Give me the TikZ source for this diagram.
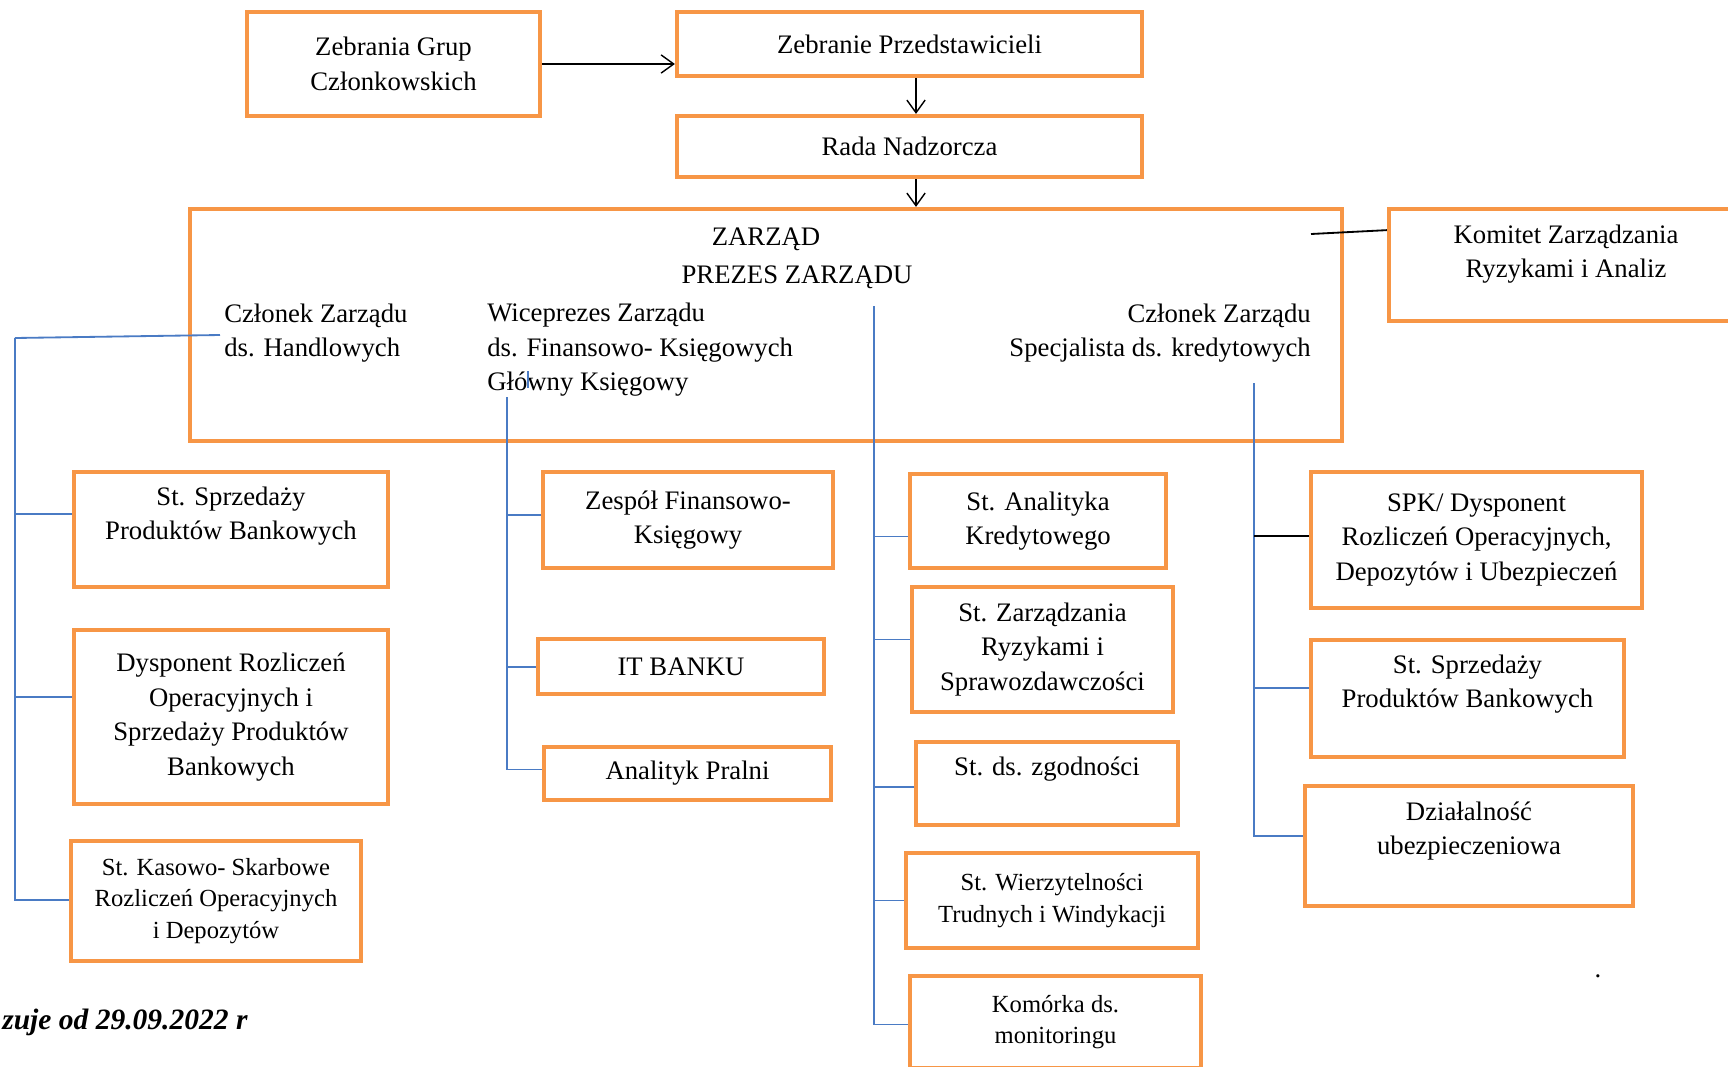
\documentclass[tikz,border=0pt]{standalone}
\usepackage{fontspec}
\setmainfont{Liberation Serif}
\usetikzlibrary{calc, arrows.meta}
\definecolor{boxorange}{HTML}{F79646}
\definecolor{lineblue}{HTML}{4A7BC4}
\newcommand\fs{\fontsize{19}{24.5}\selectfont}
\newcommand\fss{\fontsize{17.5}{22.5}\selectfont}

\begin{document}
\begin{tikzpicture}[
    x=0.025cm, y=-0.025cm,
    box/.style={rectangle, draw=boxorange, line width=3pt, align=center, font=\fs, inner sep=2pt},
    sz/.style 2 args={minimum width=#1*0.025cm, minimum height=#2*0.025cm},
    txt/.style={align=center, font=\fs, inner sep=0pt},
    arrow/.style={-{Straight Barb[length=9pt,width=13pt]}, line width=1pt},
    tree/.style={draw=lineblue, line width=1.3pt},
    thintree/.style={draw=lineblue, line width=0.8pt},
    plain/.style={draw=black, line width=1.3pt}
]
\useasboundingbox (0,0) rectangle (1728,1066);

% Top of the structure
\node[box, sz={293}{104}] (zgc) at (393.5,64) {Zebrania Grup\\Członkowskich};
\node[box, sz={465}{64}] (zp) at (909.5,44) {Zebranie Przedstawicieli};
\node[box, sz={465}{61}] (rn) at (909.5,146.5) {Rada Nadzorcza};

% Management board
\node[box, sz={1152}{232}] (zarz) at (766,325) {};
\node[txt] (zt) at (766,239) {ZARZĄD};
\node[txt] (prez) at (797,277) {PREZES ZARZĄDU};
\node[txt, align=left, anchor=west] (czh) at (224,333) {Członek Zarządu\\ds. Handlowych};
\node[txt, align=left, anchor=west] (wice) at (487,350) {Wiceprezes Zarządu\\ds. Finansowo- Księgowych\\Główny Księgowy};
\node[txt, align=right, anchor=east] (czk) at (1311,333) {Członek Zarządu\\Specjalista ds. kredytowych};

\node[box, sz={391}{112}] (kom) at (1584.5,265) {};
\node[txt] (komt) at (1566,254) {Komitet Zarządzania\\Ryzykami i Analiz};

% Sales column
\node[box, sz={314}{115}] (l1) at (231,529.5) {};
\node[txt] (l1t) at (231,516) {St. Sprzedaży\\Produktów Bankowych};
\node[box, sz={314}{174}] (l2) at (231,717) {Dysponent Rozliczeń\\Operacyjnych i\\Sprzedaży Produktów\\Bankowych};
\node[box, sz={290}{120}, font=\fss] (l3) at (216,901) {St. Kasowo- Skarbowe\\Rozliczeń Operacyjnych\\i Depozytów};

% Finance column
\node[box, sz={290}{96}] (m1) at (688,520) {Zespół Finansowo-\\Księgowy};
\node[box, sz={286}{55}] (m2) at (681,666.5) {IT BANKU};
\node[box, sz={287}{53}] (m3) at (687.5,773.5) {Analityk Pralni};

% President column
\node[box, sz={256}{94}] (r1) at (1038,521) {St. Analityka\\Kredytowego};
\node[box, sz={261}{125}] (r2) at (1042.5,649.5) {St. Zarządzania\\Ryzykami i\\Sprawozdawczości};
\node[box, sz={262}{83}] (r3) at (1047,783.5) {};
\node[txt] (r3t) at (1047,769) {St. ds. zgodności};
\node[box, sz={292}{95}, font=\fss] (r4) at (1052,900.5) {St. Wierzytelności\\Trudnych i Windykacji};
\node[box, sz={291}{92}, font=\fss] (r5) at (1055.5,1022) {Komórka ds.\\monitoringu};

% Credit column
\node[box, sz={331}{136}] (f1) at (1476.5,540) {SPK/ Dysponent\\Rozliczeń Operacyjnych,\\Depozytów i Ubezpieczeń};
\node[box, sz={313}{117}] (f2) at (1467.5,698.5) {};
\node[txt] (f2t) at (1467.5,684) {St. Sprzedaży\\Produktów Bankowych};
\node[box, sz={328}{120}] (f3) at (1469,846) {};
\node[txt] (f3t) at (1469,831) {Działalność\\ubezpieczeniowa};

\node[txt, anchor=west, font=\bfseries\itshape\fontsize{21}{25}\selectfont] (data) at (2,1022) {zuje od 29.09.2022 r};
\node[txt] (kropka) at (1598,976) {.};

% Arrows
\coordinate (ax) at (916,0);
\draw[arrow] (zgc.east) -- (zgc.east -| zp.west);
\draw[arrow] (zp.south -| ax) -- (rn.north -| ax);
\draw[arrow] (rn.south -| ax) -- (zarz.north -| ax);

% Komitet link
\coordinate (zk) at (1311,234);
\draw[plain] (zk) -- ($(kom.north west)!0.2!(kom.south west)$);

% Tree lines
\coordinate (hz) at (220,335);
\coordinate (hl) at (15,338);
\draw[tree] (hz) -- (hl);
\foreach \b/\f in {l1/0.37, l2/0.39, l3/0.49}
    \draw[tree] (hl) |- ($(\b.north west)!\f!(\b.south west)$);

\coordinate (hm) at (507,397);
\foreach \b/\f in {m1/0.45, m2/0.51, m3/0.43}
    \draw[tree] (hm) |- ($(\b.north west)!\f!(\b.south west)$);
\coordinate (tk1) at (528,371);
\coordinate (tk2) at (528,388);
\draw[tree] (tk1) -- (tk2);

\coordinate (hr) at (874,306);
\foreach \b/\f in {r1/0.66, r2/0.42, r3/0.54, r4/0.5, r5/0.53}
    \draw[thintree] (hr) |- ($(\b.north west)!\f!(\b.south west)$);

\coordinate (hf) at (1254,383);
\coordinate (f1b) at ($(f1.north west)!0.47!(f1.south west)$);
\foreach \b/\f in {f2/0.41, f3/0.42}
    \draw[tree] (hf) |- ($(\b.north west)!\f!(\b.south west)$);
\draw[plain] (hf |- f1b) -- (f1b);
\end{tikzpicture}
\end{document}
